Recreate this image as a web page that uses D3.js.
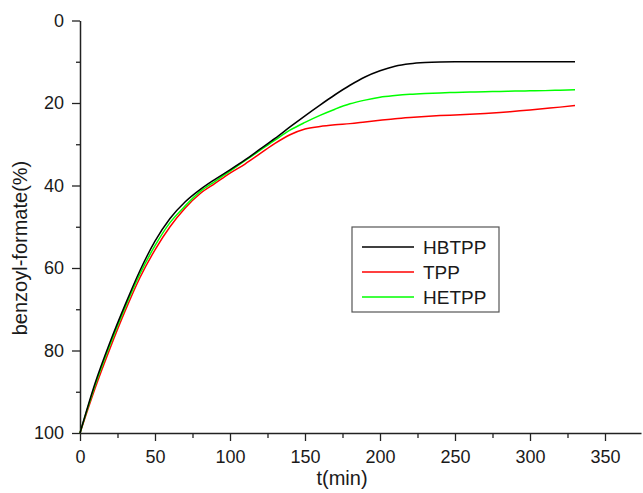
<!DOCTYPE html>
<html>
<head>
<meta charset="utf-8">
<script src="https://cdn.jsdelivr.net/npm/d3@7"></script>
<style>
  body { margin: 0; background: #fff; }
  svg { display: block; font-family: Arial, "Liberation Sans", sans-serif; }
</style>
</head>
<body>
<div id="chart"></div>
<script>
const times = [0, 10, 20, 30, 40, 50, 60, 70, 80, 90, 100, 110, 120, 130, 140, 150, 160,
  170, 180, 190, 200, 210, 220, 230, 240, 250, 260, 270, 280, 290, 300, 310, 320, 330];

const hbtpp = [100, 88, 78, 69, 60.6, 53.5, 48, 44, 41, 38.5, 36.2, 33.8, 31.2, 28.6, 25.8, 23.1, 20.5,
  18, 15.7, 13.7, 12.2, 11.1, 10.5, 10.2, 10.05, 10, 10, 10, 10, 10, 10, 10, 10, 10];

const tpp = [100, 89.2, 79.5, 70.5, 62.3, 55.6, 50, 45.5, 42, 39.5, 37, 34.8, 32.3, 29.8, 27.7, 26.3, 25.7,
  25.3, 25, 24.6, 24.2, 23.8, 23.5, 23.25, 23.05, 22.9, 22.75, 22.55, 22.3, 22, 21.7, 21.35, 21, 20.6];

const hetpp = [100, 88.5, 78.6, 69.6, 61.4, 54.6, 49, 45, 41.5, 39, 36.5, 34, 31.5, 29, 26.6, 24.7, 23,
  21.5, 20.2, 19.3, 18.6, 18.2, 17.9, 17.7, 17.55, 17.45, 17.35, 17.25, 17.2, 17.1, 17.05, 17, 16.9, 16.8];

const seriesNames = ["HBTPP", "TPP", "HETPP"];
const seriesColors = ["#000000", "#ff0000", "#00ff00"];
const xTicks = [0, 50, 100, 150, 200, 250, 300, 350];
const yTicks = [0, 20, 40, 60, 80, 100];

const width = 643, height = 493;
const margin = { top: 20.5, left: 80, right: 2, bottom: 60 };

const svg = d3.select("#chart").append("svg")
    .attr("width", width)
    .attr("height", height);

const x = d3.scaleLinear().domain([0, 374]).range([margin.left, width - margin.right]);
const y = d3.scaleLinear().domain([0, 100]).range([margin.top, height - margin.bottom]);

const textColor = "#1a1a1a";

// minor ticks
svg.append("g")
    .attr("transform", `translate(0,${y(100)})`)
    .call(d3.axisBottom(x).tickValues(d3.range(25, 374, 50)).tickSize(5).tickFormat(""))
    .call(g => g.select(".domain").remove())
    .call(g => g.selectAll("line").attr("stroke", "#222").attr("stroke-width", 1.3));

svg.append("g")
    .attr("transform", `translate(${x(0)},0)`)
    .call(d3.axisLeft(y).tickValues(d3.range(10, 100, 20)).tickSize(4).tickFormat(""))
    .call(g => g.select(".domain").remove())
    .call(g => g.selectAll("line").attr("stroke", "#222").attr("stroke-width", 1.3));

// major axes
const xAxis = svg.append("g")
    .attr("transform", `translate(0,${y(100)})`)
    .call(d3.axisBottom(x).tickValues(xTicks).tickSize(8).tickPadding(9).tickSizeOuter(0));

const yAxis = svg.append("g")
    .attr("transform", `translate(${x(0)},0)`)
    .call(d3.axisLeft(y).tickValues(yTicks).tickSize(8).tickPadding(8).tickSizeOuter(0));

[xAxis, yAxis].forEach(g => {
  g.select(".domain").attr("stroke", "#222").attr("stroke-width", 1.5);
  g.selectAll(".tick line").attr("stroke", "#222").attr("stroke-width", 1.3);
  g.selectAll(".tick text")
      .attr("fill", textColor)
      .style("font-size", "18px")
      .style("font-family", "Arial, 'Liberation Sans', sans-serif");
});

// axis titles
svg.append("text")
    .attr("x", 342)
    .attr("y", 485)
    .attr("text-anchor", "middle")
    .attr("fill", textColor)
    .style("font-size", "20px")
    .text("t(min)");

svg.append("text")
    .attr("transform", "translate(27,248) rotate(-90)")
    .attr("text-anchor", "middle")
    .attr("fill", textColor)
    .style("font-size", "20px")
    .text("benzoyl-formate(%)");

// lines
const allSeries = [hbtpp, tpp, hetpp];
const line = d3.line()
    .x((d, i) => x(times[i]))
    .y(d => y(d))
    .curve(d3.curveMonotoneX);

// red first, then green, black on top
[1, 2, 0].forEach(k => {
  svg.append("path")
      .datum(allSeries[k])
      .attr("fill", "none")
      .attr("stroke", seriesColors[k])
      .attr("stroke-width", 1.5)
      .attr("d", line);
});

// legend
const legend = svg.append("g").attr("transform", "translate(352,227)");
legend.append("rect")
    .attr("width", 147)
    .attr("height", 85)
    .attr("fill", "#fff")
    .attr("stroke", "#555")
    .attr("stroke-width", 1.2);

seriesNames.forEach((name, i) => {
  const cy = 20 + i * 25;
  legend.append("line")
      .attr("x1", 10).attr("x2", 62)
      .attr("y1", cy).attr("y2", cy)
      .attr("stroke", seriesColors[i])
      .attr("stroke-width", 1.5);
  legend.append("text")
      .attr("x", 71)
      .attr("y", cy)
      .attr("dy", "0.36em")
      .attr("fill", textColor)
      .style("font-size", "19px")
      .text(name);
});
</script>
</body>
</html>
